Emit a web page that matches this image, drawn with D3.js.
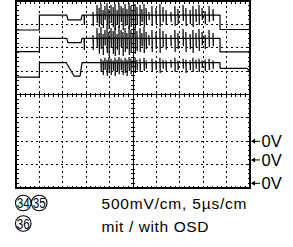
<!DOCTYPE html>
<html>
<head>
<meta charset="utf-8">
<script src="https://cdn.jsdelivr.net/npm/d3@7"></script>
<style>
  body { margin: 0; background: #fff; }
  svg { display: block; }
  text { font-family: "Liberation Sans", Arial, sans-serif; fill: #000; }
</style>
</head>
<body>
<div id="scope"></div>
<script>
// screen units are cm: 10 x 8 divisions
var timeDivs = 10, voltDivs = 8;

// flat parts of each trace [t, v] (cm)
var trace1Pre  = [[0, 6.76], [1.0, 6.76], [1.0, 7.40], [2.17, 7.40], [2.22, 7.19], [2.78, 7.19], [2.82, 7.40]];
var trace1Post = [[8.72, 7.40], [8.72, 6.78], [10, 6.78]];
var trace2Pre  = [[0, 5.83], [1.0, 5.83], [1.0, 6.40], [2.17, 6.40], [2.22, 6.22], [2.78, 6.22], [2.82, 6.40]];
var trace2Post = [[8.72, 6.40], [8.72, 5.82], [10, 5.82]];
var trace3Pre  = [[0, 4.74], [1.0, 4.74], [1.0, 5.36], [2.15, 5.36], [2.48, 4.79], [2.74, 4.79], [2.82, 5.36]];
var trace3Post = [[8.72, 5.36], [8.72, 5.12], [9.88, 5.12], [10, 4.97]];
var baseLevels = [7.40, 6.40, 5.36];

// burst spikes [t, high, low]
var trace1Spikes = [
  [2.91, 7.40, 6.97], [3.29, 7.53, 6.93], [3.46, 7.83, 7.06], [3.55, 7.70, 6.89], [3.63, 7.87, 7.02],
  [3.72, 7.61, 6.84], [3.80, 7.79, 7.19], [3.89, 7.91, 6.93], [3.97, 7.66, 6.80], [4.06, 7.83, 7.06],
  [4.15, 7.74, 6.89], [4.23, 7.87, 6.76], [4.32, 7.61, 6.97], [4.40, 7.91, 6.84], [4.49, 7.79, 7.10],
  [4.57, 7.70, 6.76], [4.66, 7.87, 6.93], [4.74, 7.66, 7.02], [4.83, 7.91, 6.80], [4.91, 7.79, 6.89],
  [5.00, 7.61, 7.06], [5.09, 7.87, 6.84], [5.17, 7.74, 6.97], [5.30, 7.83, 6.93], [5.38, 7.66, 7.10],
  [5.47, 7.87, 6.89], [5.56, 7.70, 7.02], [5.68, 7.53, 7.19], [5.81, 7.79, 6.93], [5.98, 7.70, 7.02],
  [6.15, 7.87, 6.89], [6.28, 7.74, 7.10], [6.41, 7.61, 6.97], [6.62, 7.53, 7.10], [6.79, 7.79, 6.93],
  [6.92, 7.66, 7.02], [7.14, 7.83, 7.14], [7.26, 7.70, 6.93], [7.44, 7.61, 7.02], [7.56, 7.79, 6.89],
  [7.69, 7.66, 7.10], [7.82, 7.83, 6.97], [7.95, 7.70, 7.19], [8.08, 7.57, 7.02], [8.25, 7.79, 7.10],
  [8.42, 7.66, 7.14]
];
var trace2Spikes = [
  [2.91, 6.40, 5.90], [3.29, 6.55, 5.90], [3.46, 6.84, 6.02], [3.55, 6.63, 5.74], [3.63, 6.89, 5.95],
  [3.72, 6.59, 5.69], [3.80, 6.76, 6.10], [3.89, 6.93, 5.78], [3.97, 6.67, 5.65], [4.06, 6.84, 5.99],
  [4.15, 6.72, 5.74], [4.23, 6.89, 5.65], [4.32, 6.59, 5.91], [4.40, 6.93, 5.69], [4.49, 6.76, 6.02],
  [4.57, 6.67, 5.65], [4.66, 6.84, 5.82], [4.74, 6.63, 5.95], [4.83, 6.93, 5.69], [4.91, 6.76, 5.78],
  [5.00, 6.59, 5.99], [5.09, 6.89, 5.74], [5.17, 6.72, 5.86], [5.30, 6.84, 5.82], [5.38, 6.63, 6.06],
  [5.47, 6.89, 5.78], [5.56, 6.67, 5.95], [5.68, 6.55, 6.10], [5.81, 6.76, 5.82], [5.98, 6.67, 5.95],
  [6.15, 6.84, 5.78], [6.28, 6.72, 6.02], [6.41, 6.59, 5.91], [6.62, 6.55, 6.06], [6.79, 6.76, 5.82],
  [6.92, 6.63, 5.95], [7.14, 6.80, 6.06], [7.26, 6.67, 5.82], [7.44, 6.59, 5.95], [7.56, 6.76, 5.78],
  [7.69, 6.63, 6.02], [7.82, 6.80, 5.86], [7.95, 6.67, 6.10], [8.08, 6.55, 5.95], [8.25, 6.76, 6.02],
  [8.42, 6.63, 6.06]
];
var trace3Spikes = [
  [3.63, 5.53, 4.96], [3.72, 5.45, 4.83], [3.80, 5.57, 5.05], [3.89, 5.49, 4.79], [3.97, 5.60, 4.92],
  [4.06, 5.53, 4.83], [4.15, 5.45, 5.01], [4.23, 5.57, 4.79], [4.32, 5.49, 4.96], [4.40, 5.60, 4.87],
  [4.49, 5.53, 5.05], [4.57, 5.45, 4.83], [4.66, 5.57, 4.92], [4.74, 5.49, 4.79], [4.83, 5.60, 5.01],
  [4.91, 5.53, 4.87], [5.00, 5.45, 5.10], [5.09, 5.57, 4.92], [5.17, 5.49, 5.05], [5.30, 5.53, 4.96],
  [5.47, 5.57, 5.01], [5.56, 5.45, 5.10], [5.81, 5.53, 4.96], [5.98, 5.45, 5.05], [6.15, 5.57, 4.92],
  [6.28, 5.49, 5.10], [6.41, 5.45, 5.01], [6.62, 5.49, 5.14], [6.79, 5.57, 4.96], [6.92, 5.45, 5.05],
  [7.14, 5.53, 5.10], [7.26, 5.49, 4.92], [7.44, 5.45, 5.05], [7.56, 5.57, 4.96], [7.69, 5.49, 5.10],
  [7.82, 5.53, 4.96], [7.95, 5.45, 5.14], [8.08, 5.49, 5.01], [8.25, 5.53, 5.05], [8.42, 5.45, 5.10]
];

// ground markers, labels, captions
var zeroLevels = [2.0, 1.2, 0.2];
var zeroLabel = "0V";
var circleLabels = ["34", "35", "36"];
var captionLines = ["500mV/cm, 5\u00b5s/cm", "mit / with OSD"];

var width = 293, height = 247;
var svg = d3.select("#scope").append("svg")
    .attr("width", width)
    .attr("height", height);

// scales
var x = d3.scaleLinear().domain([0, timeDivs]).range([16, 250]);
var y = d3.scaleLinear().domain([0, voltDivs]).range([188, 1]);

var grid = svg.append("g").attr("shape-rendering", "crispEdges").attr("stroke", "#000");

// dashed graticule
grid.selectAll(".vgrid")
    .data(d3.range(1, timeDivs).filter(function(d) { return d != timeDivs / 2; }))
  .enter().append("line")
    .attr("x1", function(d) { return x(d); }).attr("x2", function(d) { return x(d); })
    .attr("y1", y(0)).attr("y2", y(voltDivs))
    .attr("stroke-width", 1.2).attr("stroke-dasharray", "2,3");
grid.selectAll(".hgrid")
    .data(d3.range(1, voltDivs).filter(function(d) { return d != voltDivs / 2; }))
  .enter().append("line")
    .attr("y1", function(d) { return y(d); }).attr("y2", function(d) { return y(d); })
    .attr("x1", x(0)).attr("x2", x(timeDivs))
    .attr("stroke-width", 1.2).attr("stroke-dasharray", "2,3");

// centre cross
grid.append("line").attr("x1", x(timeDivs / 2)).attr("x2", x(timeDivs / 2))
    .attr("y1", y(0)).attr("y2", y(voltDivs)).attr("stroke-width", 1);
grid.append("line").attr("y1", y(voltDivs / 2)).attr("y2", y(voltDivs / 2))
    .attr("x1", x(0)).attr("x2", x(timeDivs)).attr("stroke-width", 1);

var tx = d3.range(0.2, timeDivs, 0.2), ty = d3.range(0.2, voltDivs, 0.2);
var ticks = [];
tx.forEach(function(t) {
  ticks.push([x(t), y(voltDivs / 2) - 2, x(t), y(voltDivs / 2) + 2]);
  ticks.push([x(t), y(voltDivs), x(t), y(voltDivs) + 2.5]);
  ticks.push([x(t), y(0), x(t), y(0) - 2.5]);
});
ty.forEach(function(v) {
  ticks.push([x(timeDivs / 2) - 2, y(v), x(timeDivs / 2) + 2, y(v)]);
  ticks.push([x(0), y(v), x(0) + 2.5, y(v)]);
  ticks.push([x(timeDivs), y(v), x(timeDivs) - 2.5, y(v)]);
});
grid.selectAll(".tick")
    .data(ticks)
  .enter().append("line")
    .attr("x1", function(d) { return d[0]; }).attr("y1", function(d) { return d[1]; })
    .attr("x2", function(d) { return d[2]; }).attr("y2", function(d) { return d[3]; })
    .attr("stroke-width", 1);

// frame
grid.append("rect")
    .attr("x", x(0)).attr("y", y(voltDivs))
    .attr("width", x(timeDivs) - x(0)).attr("height", y(0) - y(voltDivs))
    .attr("fill", "none").attr("stroke-width", 1.3);

// traces: needles drawn as vertical strokes off the base level
function tracePoints(pre, spikes, base, post) {
  var pts = pre.slice();
  spikes.forEach(function(s) {
    pts.push([s[0], base], [s[0], s[1]], [s[0] + 0.012, s[2]], [s[0] + 0.012, base]);
  });
  return pts.concat(post);
}
var traces = [
  tracePoints(trace1Pre, trace1Spikes, baseLevels[0], trace1Post),
  tracePoints(trace2Pre, trace2Spikes, baseLevels[1], trace2Post),
  tracePoints(trace3Pre, trace3Spikes, baseLevels[2], trace3Post)
];

var line = d3.line()
    .x(function(d) { return x(d[0]); })
    .y(function(d) { return y(d[1]); });

svg.selectAll(".trace")
    .data(traces)
  .enter().append("path")
    .attr("class", "trace")
    .attr("d", line)
    .attr("fill", "none")
    .attr("stroke", "#000")
    .attr("stroke-width", 1.2)
    .attr("stroke-linejoin", "bevel");

// 0V markers
var zero = svg.selectAll(".zero")
    .data(zeroLevels)
  .enter().append("g")
    .attr("transform", function(d) { return "translate(" + x(timeDivs) + "," + y(d) + ")"; });
zero.append("line").attr("x1", 3).attr("x2", 10).attr("stroke", "#000").attr("stroke-width", 1);
zero.append("path").attr("d", "M1,0L5,-2.5L5,2.5Z").attr("fill", "#000");
zero.append("text")
    .attr("x", 11.5).attr("dy", "0.36em")
    .style("font-size", "16.5px")
    .text(zeroLabel);

// circled figure numbers
var circlePos = [[23.3, 203], [39.2, 203], [23.3, 223.5]];
var circ = svg.selectAll(".num")
    .data(circleLabels)
  .enter().append("g")
    .attr("transform", function(d, i) { return "translate(" + circlePos[i][0] + "," + circlePos[i][1] + ")"; });
circ.append("circle").attr("r", 7.8).attr("fill", "none").attr("stroke", "#000").attr("stroke-width", 1.1);
circ.append("text")
    .attr("text-anchor", "middle").attr("dy", "0.36em")
    .attr("textLength", 13).attr("lengthAdjust", "spacingAndGlyphs")
    .style("font-size", "14.5px")
    .text(function(d) { return d; });

// caption
svg.selectAll(".caption")
    .data(captionLines)
  .enter().append("text")
    .attr("x", 101.5)
    .attr("y", function(d, i) { return 209 + i * 23; })
    .style("font-size", "15.5px")
    .attr("textLength", function(d, i) { return i ? 107 : 145; })
    .attr("lengthAdjust", "spacing")
    .text(function(d) { return d; });
</script>
</body>
</html>
